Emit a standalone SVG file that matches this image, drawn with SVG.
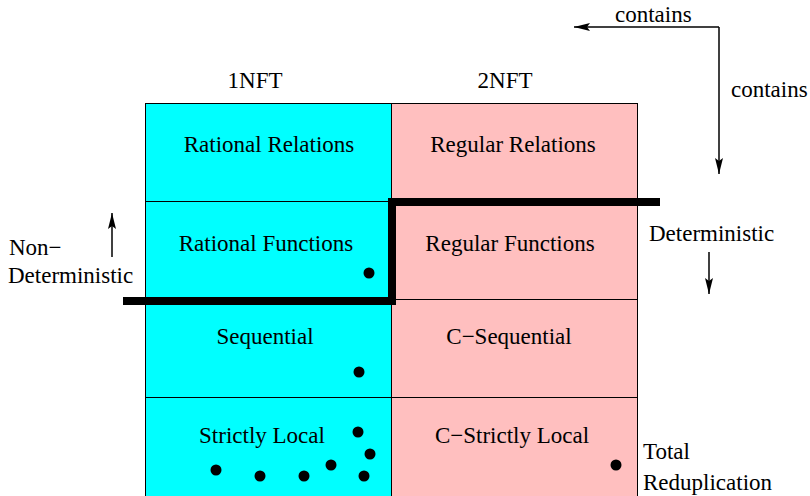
<svg xmlns="http://www.w3.org/2000/svg" width="810" height="496" viewBox="0 0 810 496">
<defs>
<style>
text{font-family:"Liberation Serif","Times New Roman",serif;font-size:23px;fill:#000}
.c{text-anchor:middle}
.cy{fill:#00ffff;stroke:#000;stroke-width:1}
.pk{fill:#ffbfbf;stroke:#000;stroke-width:1}
.ln{stroke:#000;stroke-width:1.5;fill:none}
.dot{fill:#000}
</style>
<marker id="ahL" viewBox="0 0 16 8" refX="16" refY="4" markerWidth="16" markerHeight="8" markerUnits="userSpaceOnUse" orient="auto">
<path d="M0,0 L16,4 L0,8 L3,4 Z" fill="#000"/>
</marker>
</defs>
<rect width="810" height="496" fill="#fff"/>
<g id="headers">
<text class="c" x="255" y="88">1NFT</text>
<text class="c" x="505" y="88">2NFT</text>
</g>
<g id="rational-relations"><rect class="cy" x="145.5" y="103.5" width="246" height="98"/><text class="c" x="269" y="152">Rational Relations</text></g>
<g id="regular-relations"><rect class="pk" x="391.5" y="103.5" width="246" height="98"/><text class="c" x="513" y="152">Regular Relations</text></g>
<g id="rational-functions"><rect class="cy" x="145.5" y="201.5" width="246" height="98"/><text class="c" x="266" y="251">Rational Functions</text><circle class="dot" cx="369" cy="273" r="5.5"/></g>
<g id="regular-functions"><rect class="pk" x="391.5" y="201.5" width="246" height="98"/><text class="c" x="510" y="251">Regular Functions</text></g>
<g id="sequential"><rect class="cy" x="145.5" y="299.5" width="246" height="98"/><text class="c" x="265" y="344">Sequential</text><circle class="dot" cx="359" cy="372" r="5.5"/></g>
<g id="c-sequential"><rect class="pk" x="391.5" y="299.5" width="246" height="98"/><text class="c" x="509" y="344">C−Sequential</text></g>
<g id="strictly-local"><rect class="cy" x="145.5" y="397.5" width="246" height="100"/><text class="c" x="262" y="443">Strictly Local</text>
<circle class="dot" cx="358" cy="432" r="5.5"/><circle class="dot" cx="370" cy="454" r="5.5"/><circle class="dot" cx="216" cy="470" r="5.5"/><circle class="dot" cx="260" cy="476" r="5.5"/><circle class="dot" cx="304" cy="476" r="5.5"/><circle class="dot" cx="331" cy="465" r="5.5"/><circle class="dot" cx="364" cy="476" r="5.5"/></g>
<g id="c-strictly-local"><rect class="pk" x="391.5" y="397.5" width="246" height="100"/><text class="c" x="512" y="443">C−Strictly Local</text><circle class="dot" cx="616" cy="465" r="5.5"/></g>
<g id="boundary"><path d="M123,301 H392 V202 H660" stroke="#000" stroke-width="8" fill="none" stroke-linejoin="miter"/></g>
<g id="labels">
<text x="615" y="22">contains</text>
<text x="731" y="97">contains</text>
<text x="9" y="255">Non−</text>
<text x="8" y="283">Deterministic</text>
<text x="649" y="241">Deterministic</text>
<text x="643" y="459">Total</text>
<text x="643" y="490">Reduplication</text>
</g>
<g id="connectors">
<path class="ln" d="M719,27 H574" marker-end="url(#ahL)"/>
<path class="ln" d="M719,27 V174" marker-end="url(#ahL)"/>
<path class="ln" d="M112,257 V213" marker-end="url(#ahL)"/>
<path class="ln" d="M709,252 V294" marker-end="url(#ahL)"/>
</g>
</svg>
